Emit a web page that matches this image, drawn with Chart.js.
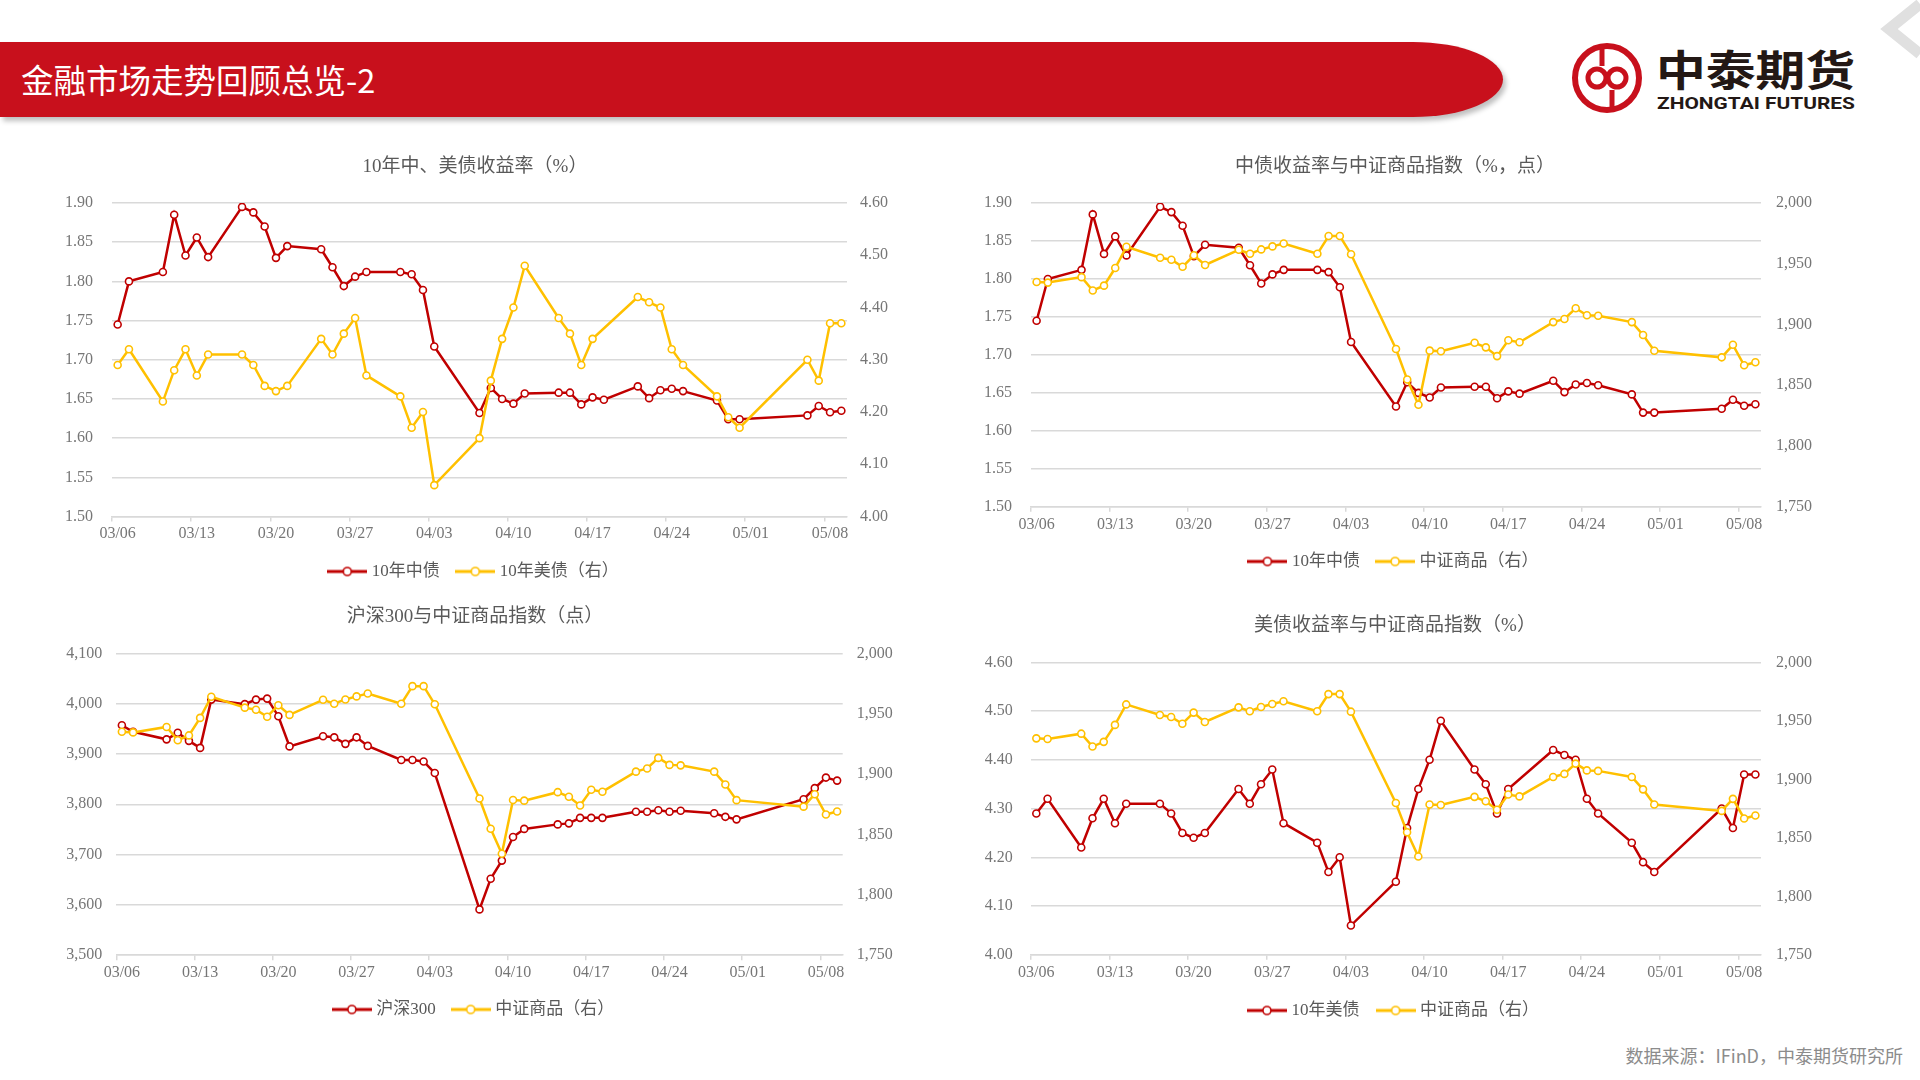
<!DOCTYPE html>
<html>
<head>
<meta charset="utf-8">
<script src="https://cdn.jsdelivr.net/npm/chart.js@4.4.1/dist/chart.umd.min.js"></script>
<style>
  body { margin: 0; width: 1920px; height: 1080px; background: #fff; position: relative; overflow: hidden; font-family: 'Noto Sans CJK SC', sans-serif; }
  .banner { position: absolute; left: 0; top: 42px; width: 1503px; height: 75px; background: #c8101c;
            border-radius: 0 90px 90px 0 / 0 37.5px 37.5px 0; box-shadow: 3px 4px 5px rgba(0,0,0,0.25); }
  .banner span { position: absolute; left: 21px; top: 16px; color: #fff; font-size: 32.5px; line-height: 42px;
                 white-space: nowrap; }
  canvas { position: absolute; }
  .source { position: absolute; right: 17px; top: 1042px; font-size: 18px; color: #8c8c8c; line-height: 26px; }
</style>
</head>
<body>
<div class="banner"><span>金融市场走势回顾总览-2</span></div>
<svg style="position:absolute;left:0;top:0" width="1920" height="140">
  <circle cx="1607" cy="78" r="32" fill="none" stroke="#c8101c" stroke-width="6"/>
  <path d="M1602 47 L1602 66 M1612 90 L1612 109" stroke="#c8101c" stroke-width="5" fill="none"/>
  <circle cx="1597" cy="78" r="9" fill="none" stroke="#c8101c" stroke-width="5"/>
  <circle cx="1617" cy="78" r="9" fill="none" stroke="#c8101c" stroke-width="5"/>
  <text x="1656" y="86" font-family="Noto Sans CJK SC" font-weight="bold" font-size="42" fill="#231815" textLength="199" lengthAdjust="spacingAndGlyphs">中泰期货</text>
  <text x="1657" y="108.5" font-family="Roboto" font-weight="bold" font-size="16.5" fill="#231815" textLength="198" lengthAdjust="spacingAndGlyphs">ZHONGTAI FUTURES</text>
  <polyline points="1920,4 1889,29 1920,54" fill="none" stroke="#e0e0e0" stroke-width="11"/>
</svg>
<canvas id="c1"></canvas>
<canvas id="c2"></canvas>
<canvas id="c3"></canvas>
<canvas id="c4"></canvas>
<div class="source">数据来源：IFinD，中泰期货研究所</div>
<script>
// trading days (China); US series skips 04/18
var cnDates = ['03/06','03/07','03/10','03/11','03/12','03/13','03/14','03/17','03/18','03/19','03/20','03/21',
  '03/24','03/25','03/26','03/27','03/28','03/31','04/01','04/02','04/03','04/07','04/08','04/09','04/10','04/11',
  '04/14','04/15','04/16','04/17','04/18','04/21','04/22','04/23','04/24','04/25','04/28','04/29','04/30',
  '05/06','05/07','05/08','05/09'];
var usDates = cnDates.filter(function (d) { return d !== '04/18'; });

var cn10y = [1.745, 1.800, 1.812, 1.885, 1.833, 1.856, 1.831, 1.895, 1.888, 1.870, 1.830, 1.845,
  1.841, 1.818, 1.794, 1.806, 1.812, 1.812, 1.809, 1.789, 1.717, 1.632, 1.664, 1.650, 1.644, 1.657,
  1.658, 1.658, 1.643, 1.652, 1.649, 1.666, 1.651, 1.661, 1.663, 1.660, 1.648, 1.624, 1.624,
  1.629, 1.641, 1.633, 1.635];
var us10y = [4.29, 4.32, 4.22, 4.28, 4.32, 4.27, 4.31, 4.31, 4.29, 4.25, 4.24, 4.25,
  4.34, 4.31, 4.35, 4.38, 4.27, 4.23, 4.17, 4.20, 4.06, 4.15, 4.26, 4.34, 4.40, 4.48,
  4.38, 4.35, 4.29, 4.34, 4.42, 4.41, 4.40, 4.32, 4.29, 4.23, 4.19, 4.17,
  4.30, 4.26, 4.37, 4.37];
var csi300 = [3957, 3944, 3929, 3942, 3926, 3912, 4008, 3999, 4008, 4010, 3975, 3915,
  3935, 3933, 3920, 3933, 3916, 3888, 3888, 3885, 3862, 3591, 3652, 3688, 3735, 3751,
  3760, 3762, 3773, 3773, 3773, 3785, 3785, 3788, 3785, 3787, 3782, 3775, 3770,
  3810, 3832, 3853, 3847];
var commodity = [1935, 1934.5, 1939, 1928, 1932, 1946.5, 1964, 1955, 1953.3, 1947.5, 1957, 1949,
  1961.5, 1958.2, 1961.8, 1964.3, 1966.7, 1958.2, 1972.8, 1972.8, 1957.8, 1879.8, 1854.7, 1834, 1878.5, 1878,
  1885, 1881.2, 1874, 1887, 1885.4, 1902, 1904.6, 1913.4, 1907.6, 1907.2, 1902, 1891.4, 1878.4,
  1873, 1883.3, 1866.5, 1869];
var xTickLabels = ['03/06','03/13','03/20','03/27','04/03','04/10','04/17','04/24','05/01','05/08'];

var RED = '#c00000', YEL = '#ffc000', GRID = '#d9d9d9', TICK = '#767676', TXT = '#595959';
var FAM = "'Liberation Serif', 'Noto Sans CJK SC', serif";

var base = new Date(2025, 2, 6);
function dayOf(s) {
  var p = s.split('/');
  return Math.round((new Date(2025, +p[0] - 1, +p[1]) - base) / 864e5);
}
function dayLabel(n) {
  var dt = new Date(2025, 2, 6 + Math.round(n));
  return String(dt.getMonth() + 1).padStart(2, '0') + '/' + String(dt.getDate()).padStart(2, '0');
}
function pts(dates, vals) {
  return dates.map(function (d, i) { return { x: dayOf(d), y: vals[i] }; });
}
function fmt2(v) { return v.toFixed(2); }
function fmtK(v) { return Math.round(v).toLocaleString('en-US'); }

function legendIcon(color) {
  var c = document.createElement('canvas');
  c.width = 40; c.height = 12;
  var g = c.getContext('2d');
  g.strokeStyle = color; g.lineWidth = 3;
  g.beginPath(); g.moveTo(0, 6); g.lineTo(40, 6); g.stroke();
  g.beginPath(); g.arc(20, 6, 4, 0, Math.PI * 2);
  g.fillStyle = '#fff'; g.fill(); g.lineWidth = 1.6; g.stroke();
  return c;
}

function yAxis(pos, a) {
  return {
    position: pos, min: a.min, max: a.max,
    afterBuildTicks: function (s) {
      var t = [];
      for (var v = a.min; v <= a.max + 1e-9; v += a.step) t.push({ value: +v.toFixed(4) });
      s.ticks = t;
    },
    afterFit: function (s) { s.width = a.width; },
    ticks: { callback: a.fmt, padding: a.pad, color: TICK, font: { family: FAM, size: 16 } },
    grid: pos === 'left' ? { color: GRID, lineWidth: 1.5, drawTicks: false } : { display: false, drawTicks: false },
    border: { display: false }
  };
}

function makeChart(id, box, spec) {
  var cv = document.getElementById(id);
  cv.width = box.w; cv.height = box.h;
  cv.style.left = box.x + 'px'; cv.style.top = box.y + 'px';
  cv.style.width = box.w + 'px'; cv.style.height = box.h + 'px';
  var series = [spec.left, spec.right];
  return new Chart(cv.getContext('2d'), {
    type: 'line',
    data: {
      datasets: series.map(function (s, i) {
        var col = i === 0 ? RED : YEL;
        return {
          label: s.label,
          data: pts(s.dates, s.values),
          yAxisID: i === 0 ? 'yL' : 'yR',
          borderColor: col, backgroundColor: '#fff',
          borderWidth: 2.5, tension: 0,
          pointRadius: 3.5, pointBorderWidth: 1.6,
          pointBackgroundColor: '#fff', pointBorderColor: col,
          order: i === 0 ? 1 : 0
        };
      })
    },
    options: {
      responsive: false, animation: false,
      layout: { padding: 0 },
      plugins: {
        tooltip: { enabled: false },
        title: {
          display: true, text: spec.title, color: TXT,
          font: { family: FAM, size: 19, weight: 'normal', lineHeight: 1.2 },
          padding: { top: box.tt - 0.6, bottom: box.tb - 0.6 }
        },
        legend: {
          position: 'bottom',
          labels: {
            usePointStyle: true, pointStyleWidth: 32, padding: box.lp,
            color: TXT, font: { family: FAM, size: 17 },
            sort: function (a, b) { return a.datasetIndex - b.datasetIndex; },
            generateLabels: function (ch) {
              return Chart.defaults.plugins.legend.labels.generateLabels(ch).map(function (it) {
                it.pointStyle = legendIcon(ch.data.datasets[it.datasetIndex].borderColor);
                return it;
              });
            }
          }
        }
      },
      scales: {
        x: {
          type: 'linear', min: -0.5, max: 64.5,
          afterBuildTicks: function (s) {
            s.ticks = xTickLabels.map(function (l) { return { value: dayOf(l) - 0.5 }; });
          },
          afterFit: function (s) { s.height = 27; },
          ticks: {
            callback: function (v) { return dayLabel(v + 0.5); },
            labelOffset: 5.6, padding: 3, maxRotation: 0, autoSkip: false,
            color: TICK, font: { family: FAM, size: 16 }
          },
          grid: { drawOnChartArea: false, drawTicks: true, tickLength: 5, color: GRID, lineWidth: 1.5 },
          border: { color: GRID, width: 1.5 }
        },
        yL: yAxis('left', spec.left),
        yR: yAxis('right', spec.right)
      }
    }
  });
}

makeChart('c1', { x: 20, y: 145, w: 910, h: 445, tt: 11.2, tb: 25.2, lp: 19.5 }, {
  title: '10年中、美债收益率（%）',
  left: { label: '10年中债', dates: cnDates, values: cn10y, min: 1.5, max: 1.9, step: 0.05, fmt: fmt2, width: 92, pad: 19 },
  right: { label: '10年美债（右）', dates: usDates, values: us10y, min: 4.0, max: 4.6, step: 0.1, fmt: fmt2, width: 83, pad: 13 }
});
makeChart('c2', { x: 945, y: 145, w: 900, h: 435, tt: 11, tb: 25.4, lp: 19.2 }, {
  title: '中债收益率与中证商品指数（%，点）',
  left: { label: '10年中债', dates: cnDates, values: cn10y, min: 1.5, max: 1.9, step: 0.05, fmt: fmt2, width: 86, pad: 19 },
  right: { label: '中证商品（右）', dates: cnDates, values: commodity, min: 1750, max: 2000, step: 50, fmt: fmtK, width: 84, pad: 15 }
});
makeChart('c3', { x: 25, y: 595, w: 900, h: 433, tt: 10.9, tb: 25.8, lp: 18.8 }, {
  title: '沪深300与中证商品指数（点）',
  left: { label: '沪深300', dates: cnDates, values: csi300, min: 3500, max: 4100, step: 100, fmt: fmtK, width: 91.3, pad: 14 },
  right: { label: '中证商品（右）', dates: cnDates, values: commodity, min: 1750, max: 2000, step: 50, fmt: fmtK, width: 82.3, pad: 14 }
});
makeChart('c4', { x: 945, y: 605, w: 900, h: 424, tt: 10.2, tb: 25.5, lp: 20.2 }, {
  title: '美债收益率与中证商品指数（%）',
  left: { label: '10年美债', dates: usDates, values: us10y, min: 4.0, max: 4.6, step: 0.1, fmt: fmt2, width: 85.7, pad: 18 },
  right: { label: '中证商品（右）', dates: cnDates, values: commodity, min: 1750, max: 2000, step: 50, fmt: fmtK, width: 84, pad: 15 }
});
</script>
</body>
</html>
